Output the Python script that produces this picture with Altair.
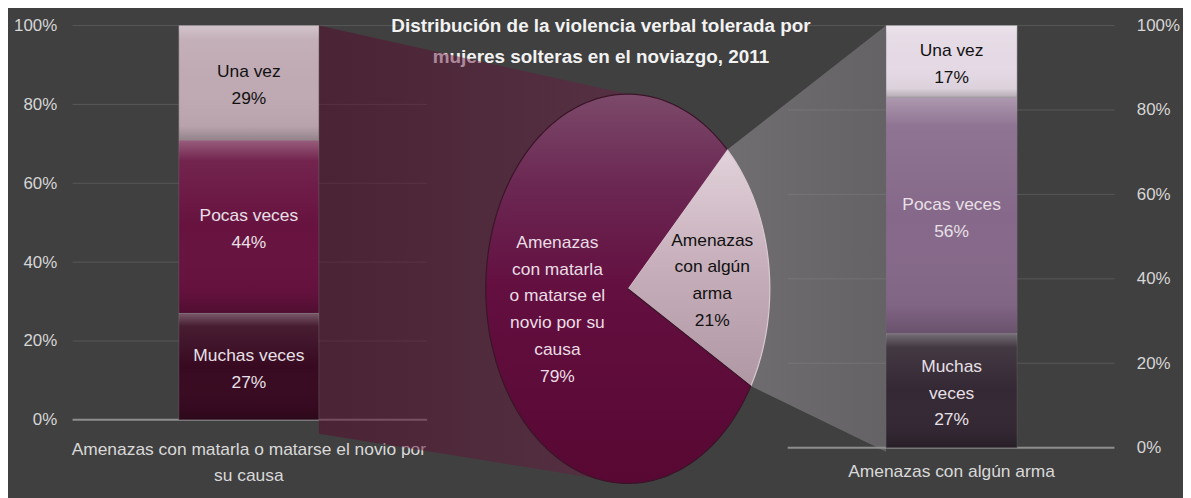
import math
import json
import altair as alt
import pandas as pd

# ---------------- data ----------------
freq_cats = ["Muchas veces", "Pocas veces", "Una vez"]
left_values = [27, 44, 29]
right_values = [27, 56, 17]
left_seg_labels = ["Muchas veces", "Pocas veces", "Una vez"]
right_seg_labels = ["Muchas\nveces", "Pocas veces", "Una vez"]
left_category = "Amenazas con matarla o matarse el novio por su causa"
right_category = "Amenazas con algún arma"
left_category_text = "Amenazas con matarla o matarse el novio por\nsu causa"
right_category_text = "Amenazas con algún arma"
pie_categories = ["Amenazas con algún arma",
                  "Amenazas con matarla o matarse el novio por su causa"]
pie_values = [21, 79]
pie_labels = ["Amenazas\ncon algún\narma",
              "Amenazas\ncon matarla\no matarse el\nnovio por su\ncausa"]
axis_ticks = [0, 20, 40, 60, 80, 100]
title_text = "Distribución de la violencia verbal tolerada por\nmujeres solteras en el noviazgo, 2011"

# ---------------- layout / style ----------------
FONT = "Liberation Sans, Arial, sans-serif"
FS = 17.5
LH = 27
BG = "#404040"
OX, OY = 73, 8          # page position of plot origin
W, H = 1049, 490
PAD = {"left": OX - 8, "top": 0, "right": 1183 - (OX - 8) - W, "bottom": 0}


def X(p):
    return p - OX


def Y(p):
    return p - OY


L_BAND = [X(180), X(321)]
R_BAND = [X(892), X(1024)]
L_YR = [Y(421), Y(24)]
R_YR = [Y(449), Y(24)]
L_GRID = [X(73), X(430)]
R_GRID = [X(793), X(1122)]
CX, CY, RX, RY = X(632), Y(289), 143, 196
A0 = math.radians(44.4)

L_COLORS = ["#380a21", "#67123f", "#bfa9b3"]
R_COLORS = ["#332833", "#86698a", "#e4d9e4"]

XP = alt.Scale(domain=[0, W], range=[0, W], nice=False, zero=False)
YP = alt.Scale(domain=[0, H], range=[0, H], nice=False, zero=False)


def grad(stops, horizontal=False):
    return alt.LinearGradient(
        gradient="linear",
        stops=[alt.GradientStop(color=c, offset=o) for o, c in stops],
        x1=0, y1=0, x2=1 if horizontal else 0, y2=0 if horizontal else 1)


BAR_SHINE = grad([(0, "rgba(255,255,255,0.32)"), (0.12, "rgba(255,255,255,0.08)"),
                  (0.5, "rgba(255,255,255,0)"), (0.88, "rgba(0,0,0,0.04)"),
                  (1, "rgba(0,0,0,0.22)")])

layers = []


def band_x(cat, rng):
    return alt.X("cat:N", scale=alt.Scale(domain=[cat], range=rng,
                                          paddingInner=0, paddingOuter=0), axis=None)


# gridlines
for yr, gx in [(L_YR, L_GRID), (R_YR, R_GRID)]:
    ysc = alt.Scale(domain=[0, 100], range=yr, nice=False, zero=False)
    g = alt.Chart(pd.DataFrame({"t": axis_ticks}))
    layers.append(g.transform_filter("datum.t > 0").mark_rule(
        color="#585858", strokeWidth=1).encode(
        y=alt.Y("t:Q", scale=ysc, axis=None), x=alt.value(gx[0]), x2=alt.value(gx[1])))
    layers.append(g.transform_filter("datum.t == 0").mark_rule(
        color="#8e8e8e", strokeWidth=2).encode(
        y=alt.Y("t:Q", scale=ysc, axis=None), x=alt.value(gx[0]), x2=alt.value(gx[1])))

# title
layers.append(
    alt.Chart(pd.DataFrame({"t": [title_text]})).mark_text(
        font=FONT, fontSize=19, fontWeight="bold", color="#f2f2f2",
        lineBreak="\n", lineHeight=32, align="center", baseline="middle"
    ).encode(x=alt.value(X(605)), y=alt.value(Y(24)), text="t:N")
)

# category labels
for cat, txt, rng, ypos in [(left_category, left_category_text, L_BAND, Y(451)),
                            (right_category, right_category_text, R_BAND, Y(474))]:
    layers.append(
        alt.Chart(pd.DataFrame({"cat": [cat], "t": [txt]})).mark_text(
            font=FONT, fontSize=FS, color="#d9d9d9", lineBreak="\n",
            lineHeight=LH, baseline="middle"
        ).encode(x=band_x(cat, rng), y=alt.value(ypos), text="t:N")
    )

# connectors (derived from the bar edges and the pie geometry)
A1 = A0 + 2 * math.pi * pie_values[0] / sum(pie_values)
left_conn = pd.DataFrame({
    "i": [0, 1, 2, 3],
    "px": [L_BAND[1], CX, CX, L_BAND[1]],
    "py": [L_YR[1], CY - RY, CY + RY, Y(435)],
})
right_conn = pd.DataFrame({
    "i": [0, 1, 2, 3],
    "px": [CX + RX * math.sin(A0), R_BAND[0], R_BAND[0], CX + RX * math.sin(A1)],
    "py": [CY - RY * math.cos(A0), R_YR[1], Y(453), CY - RY * math.cos(A1)],
})
for df, fill in [
    (left_conn, grad([(0, "rgba(86,4,40,0.47)"), (1, "rgba(110,30,70,0.45)")], True)),
    (right_conn, grad([(0, "rgba(160,155,160,0.50)"), (1, "rgba(146,140,146,0.45)")], True)),
]:
    layers.append(
        alt.Chart(df).mark_line(fill=fill, strokeWidth=0).encode(
            x=alt.X("px:Q", scale=XP, axis=None),
            y=alt.Y("py:Q", scale=YP, axis=None),
            order="i:Q")
    )

# pie (elliptical)
pie_df = pd.DataFrame({"cat": pie_categories, "value": pie_values, "label": pie_labels})
pie_base = alt.Chart(pie_df).transform_window(
    cum="sum(value)", frame=[None, 0]
).transform_joinaggregate(tot="sum(value)").transform_calculate(
    a1=f"{A0} + 2*PI*(datum.cum - datum.value)/datum.tot",
    a2=f"{A0} + 2*PI*datum.cum/datum.tot",
)
poly = pie_base.transform_calculate(seq="sequence(-1, 121)").transform_flatten(
    ["seq"]).transform_calculate(
    ang="datum.a1 + (datum.a2 - datum.a1) * max(datum.seq, 0) / 120",
).transform_calculate(
    px=f"datum.seq < 0 ? {CX} : {CX} + {RX} * sin(datum.ang)",
    py=f"datum.seq < 0 ? {CY} : {CY} - {RY} * cos(datum.ang)",
)
slice_fills = [
    grad([(0, "#e2d2da"), (0.5, "#c6aeba"), (1, "#b097a4")]),
    grad([(0, "#7c4a6a"), (0.22, "#6c2954"), (0.5, "#630f40"), (1, "#580833")]),
]
slice_strokes = ["#d9c9d1", "#3a1528"]
for cat, fill, stroke in zip(pie_categories, slice_fills, slice_strokes):
    layers.append(
        poly.transform_filter(alt.datum.cat == cat).mark_line(
            fill=fill, stroke=stroke, strokeWidth=1.2, strokeJoin="round"
        ).encode(
            x=alt.X("px:Q", scale=XP, axis=None),
            y=alt.Y("py:Q", scale=YP, axis=None),
            order="seq:Q")
    )

# stacked bars
text_layers = []
for side, cat, vals, segs, band, yr, colors, orient, lpad in [
    ("L", left_category, left_values, left_seg_labels, L_BAND, L_YR, L_COLORS, "left", 16),
    ("R", right_category, right_values, right_seg_labels, R_BAND, R_YR, R_COLORS, "right", 22),
]:
    df = pd.DataFrame({"cat": [cat] * 3, "freq": freq_cats, "value": vals, "seg": segs})
    ysc = alt.Scale(domain=[0, 100], range=yr, nice=False, zero=False)
    px_per_unit = (yr[0] - yr[1]) / 100.0
    base = alt.Chart(df).transform_calculate(
        k="indexof(" + json.dumps(freq_cats) + ", datum.freq)"
    ).transform_stack(
        stack="value", groupby=["cat"], sort=[alt.SortField("k", order="ascending")],
        as_=["v0", "v1"]
    ).transform_calculate(
        txt="datum.seg + '\\n' + datum.value + '%'",
    ).transform_calculate(
        # first text line sits at y: lift the block so that it is centred on the segment
        mid=f"(datum.v0 + datum.v1) / 2 + (length(split(datum.txt, '\\n')) - 1) * {LH / 2} / {px_per_unit}",
    )
    axis = alt.Axis(orient=orient, values=axis_ticks, labelExpr="datum.value + '%'",
                    domain=False, ticks=False, grid=False, labelPadding=lpad,
                    labelColor="#d6d6d6", labelFont=FONT, labelFontSize=17, title=None,
                    labelFlush=False)
    layers.append(base.mark_bar(stroke="rgba(0,0,0,0.25)", strokeWidth=1).encode(
        x=band_x(cat, band),
        y=alt.Y("v0:Q", scale=ysc, axis=axis), y2="v1:Q",
        color=alt.Color("freq:N", scale=alt.Scale(domain=freq_cats, range=colors),
                        legend=None)))
    layers.append(base.mark_bar(fill=BAR_SHINE, stroke="rgba(255,255,255,0.18)",
                                strokeWidth=1).encode(
        x=band_x(cat, band), y=alt.Y("v0:Q", scale=ysc, axis=None), y2="v1:Q"))
    text_layers.append(base.mark_text(
        font=FONT, fontSize=FS, lineBreak="\n", lineHeight=LH, baseline="middle", dy=3
    ).encode(
        x=band_x(cat, band), y=alt.Y("mid:Q", scale=ysc, axis=None), text="txt:N",
        color=alt.condition("datum.k == 2", alt.value("#111111"), alt.value("#e8e0e6"))))

layers.extend(text_layers)

# pie labels
layers.append(
    pie_base.transform_calculate(
        mid="(datum.a1 + datum.a2) / 2",
        f="datum.value > 50 ? 0.5 : 0.6",
        txt="datum.label + '\\n' + datum.value + '%'",
    ).transform_calculate(
        lx=f"{CX} + {RX} * datum.f * sin(datum.mid)",
        ly=f"{CY} - {RY} * datum.f * cos(datum.mid) - (length(split(datum.txt, '\\n')) - 1) * {LH / 2}",
    ).mark_text(font=FONT, fontSize=FS, lineBreak="\n", lineHeight=LH,
                baseline="middle", dy=8).encode(
        x=alt.X("lx:Q", scale=XP, axis=None),
        y=alt.Y("ly:Q", scale=YP, axis=None),
        text="txt:N",
        color=alt.condition("datum.value < 50", alt.value("#111111"), alt.value("#eadde4")))
)

chart = alt.layer(*layers).resolve_scale(
    x="independent", y="independent", color="independent"
).properties(
    width=W, height=H, background=BG, padding=PAD,
    autosize=alt.AutoSizeParams(type="none"),
).configure_view(stroke="transparent")

chart.save("out.html", embed_options={"renderer": "svg", "actions": False})
